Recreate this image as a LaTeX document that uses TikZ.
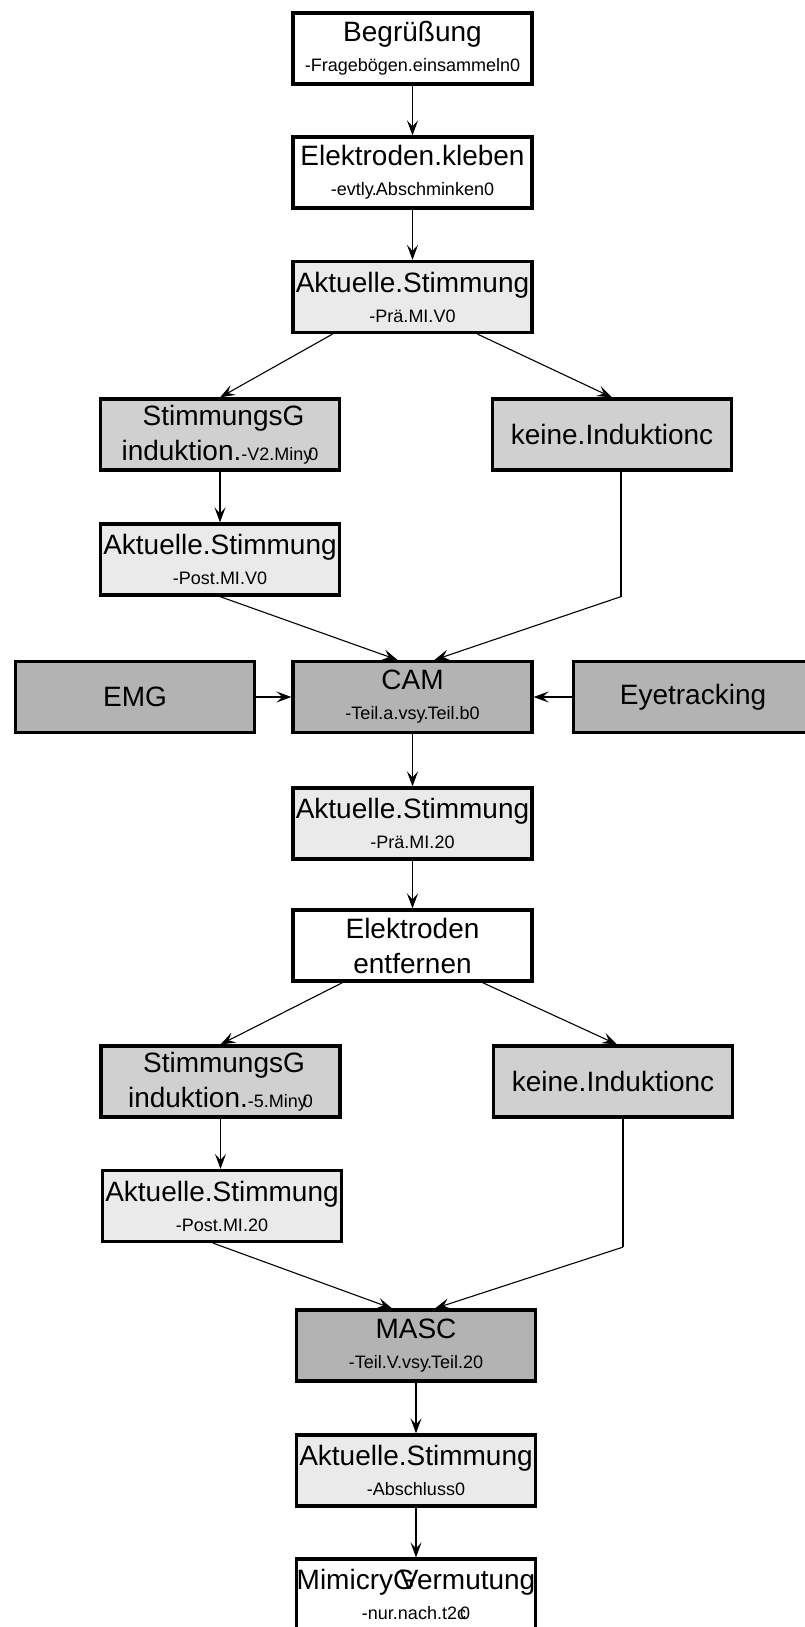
\documentclass[tikz,border=0pt]{standalone}
\usepackage{fontspec}
\setmainfont{Liberation Sans}
\usetikzlibrary{arrows.meta}
\definecolor{moodgray}{HTML}{EAEAEA}
\definecolor{indgray}{HTML}{D0D0D0}
\definecolor{measgray}{HTML}{B3B3B3}
\newcommand{\subtxt}{\fontsize{18}{30}\selectfont}
\tikzstyle{box}=[draw=black,line width=3.2pt,minimum width=239pt,minimum height=71pt,
  inner sep=0pt,align=center,font=\fontsize{28}{30}\selectfont]
\tikzstyle{twoline}=[font=\fontsize{28}{35}\selectfont]
\tikzstyle{plain}=[box,fill=white]
\tikzstyle{mood}=[box,fill=moodgray]
\tikzstyle{induction}=[box,fill=indgray]
\tikzstyle{measure}=[box,fill=measgray]
\tikzstyle{flow}=[line width=1.1pt,-{Stealth[length=15pt,width=11pt,inset=6pt]}]
\tikzstyle{link}=[line width=1.1pt]

\begin{document}
\begin{tikzpicture}[x=1pt,y=-1pt]
  \useasboundingbox (0,0) rectangle (805,1627);

  % Preparation.
  \node[plain] (greet) at (412.5,48.5) {Begrüßung\\\subtxt -Fragebögen.einsammeln0};
  \node[plain] (stick) at (412.5,172.5) {Elektroden.kleben\\\subtxt -evtly\kern-2pt.\kern-1pt Abschminken0};
  \node[mood] (pre1) at (412.5,297) {Aktuelle.Stimmung\\\subtxt -Prä.MI.V0};

  % First induction.
  \node[induction,twoline] (ind1) at (220,434.5) {\hspace*{7pt}StimmungsG\\induktion.{\subtxt -V2.Miny\kern-4pt 0}};
  \node[induction] (keine1) at (612,434.5) {keine.Induktionc};
  \node[mood] (post1) at (220,559.5) {Aktuelle.Stimmung\\\subtxt -Post.MI.V0};

  % Measures.
  \node[measure] (emg) at (135,697) {EMG};
  \node[measure] (cam) at (412.5,697) {CAM\\\subtxt -Teil.a.vsy\kern-2pt.\kern-1pt Teil.b0};
  \node[measure] (eye) at (693,697) {Eyetracking};
  \node[mood] (pre2) at (412.5,823.5) {Aktuelle.Stimmung\\\subtxt -Prä.MI.20};
  \node[plain,twoline] (remove) at (412.5,945.5) {Elektroden\\entfernen};

  % Second induction.
  \node[induction,twoline] (ind2) at (220.5,1081.5) {\hspace*{7pt}StimmungsG\\induktion.{\subtxt -5.Miny\kern-4pt 0}};
  \node[induction] (keine2) at (613,1081.5) {keine.Induktionc};
  \node[mood] (post2) at (222,1206) {Aktuelle.Stimmung\\\subtxt -Post.MI.20};

  % Closing.
  \node[measure] (masc) at (416,1345.5) {MASC\\\subtxt -Teil.V.vsy\kern-2pt.\kern-1pt Teil.20};
  \node[mood] (final) at (416,1470.5) {Aktuelle.Stimmung\\\subtxt -Abschluss0};
  \node[plain] (mimic) at (416,1594.5) {MimicryG\kern-15pt Vermutung\\\subtxt -nur.nach.t2c\kern-6pt 0};

  % Upper connectors.
  \draw[flow] (greet.south) -- (stick.north);
  \draw[flow] (stick.south) -- (pre1.north);
  \draw[flow] ([xshift=-80pt]pre1.south) -- (ind1.north);
  \draw[flow] ([xshift=65pt]pre1.south) -- (keine1.north);
  \draw[flow] (ind1.south) -- (post1.north);
  \draw[flow] (post1.south) -- ([xshift=-15pt]cam.north);
  \draw[link] ([xshift=9pt]keine1.south) -- ([xshift=9pt]keine1.south |- post1.south)
    coordinate (bend1);
  \draw[flow] (bend1) -- ([xshift=22pt]cam.north);
  \draw[flow] (emg.east) -- (cam.west);
  \draw[flow] (eye.west) -- (cam.east);

  % Lower connectors.
  \draw[flow] (cam.south) -- (pre2.north);
  \draw[flow] (pre2.south) -- (remove.north);
  \draw[flow] ([xshift=-70pt]remove.south) -- (ind2.north);
  \draw[flow] ([xshift=70pt]remove.south) -- ([xshift=4pt]keine2.north);
  \draw[flow] (ind2.south) -- ([xshift=-1.5pt]post2.north);
  \draw[flow] ([xshift=-9pt]post2.south) -- ([xshift=-24pt]masc.north);
  \draw[link] ([xshift=10pt]keine2.south) -- ([xshift=10pt,yshift=-4pt]keine2.south |- post2.south)
    coordinate (bend2);
  \draw[flow] (bend2) -- ([xshift=19pt]masc.north);
  \draw[flow] (masc.south) -- (final.north);
  \draw[flow] (final.south) -- (mimic.north);
\end{tikzpicture}
\end{document}
